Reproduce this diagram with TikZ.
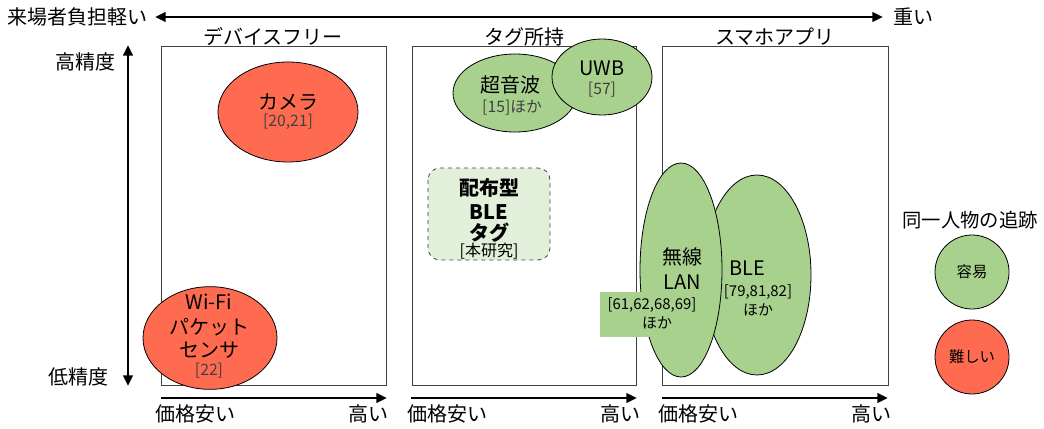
\documentclass[tikz,border=0pt]{standalone}
\usepackage{fontspec}
\setmainfont{Noto Sans CJK JP}
\usetikzlibrary{arrows.meta,shapes.geometric}
\definecolor{gfill}{HTML}{A9D18E}
\definecolor{rfill}{HTML}{FF6B50}
\definecolor{lgfill}{HTML}{E2F0D9}
\definecolor{boxline}{HTML}{404040}
\definecolor{reftext}{HTML}{404040}
\tikzset{
  big/.style={font=\fontsize{15}{18}\selectfont, inner sep=0pt},
  mid/.style={font=\fontsize{14.5}{18}\selectfont, inner sep=0pt},
  ref/.style={font=\fontsize{11.8}{14}\selectfont, text=reftext, inner sep=0pt},
  refb/.style={font=\fontsize{11.2}{13}\selectfont, inner sep=0pt},
  panel/.style={draw=boxline, line width=0.6pt},
  bigarrow/.style={line width=2.2pt, -{Triangle[length=8pt,width=7pt]}},
  dblarrow/.style={line width=2.2pt, {Triangle[length=8pt,width=7pt]}-{Triangle[length=8pt,width=7pt]}},
  ell/.style={ellipse, draw=black, line width=0.6pt, inner sep=0pt},
}
\begin{document}
\begin{tikzpicture}[x=0.75pt,y=-0.75pt]
\useasboundingbox (0,0) rectangle (1044,428);

% top arrow
\coordinate (tl) at (155,17);
\coordinate (tr) at (883,17);
\draw[dblarrow] (tl) -- (tr);
\node[big, anchor=east] (light) at (148,17) {来場者負担軽い};
\node[big, anchor=west] (heavy) at (893,17) {重い};

% vertical arrow
\coordinate (vt) at (128,45);
\coordinate (vb) at (128,386);
\draw[dblarrow] (vt) -- (vb);
\node[big] (hi) at (85,62) {高精度};
\node[big] (lo) at (78,377) {低精度};

% panels
\draw[panel] (161,46) rectangle (386,385);
\draw[panel] (412,46) rectangle (636,385);
\draw[panel] (662,46) rectangle (888,385);
\node[big] (h1) at (273,37) {デバイスフリー};
\node[big] (h2) at (524,37) {タグ所持};
\node[big] (h3) at (775,37) {スマホアプリ};

% price arrows
\coordinate (a1l) at (161,398); \coordinate (a1r) at (387,398);
\coordinate (a2l) at (411,398); \coordinate (a2r) at (637,398);
\coordinate (a3l) at (662,398); \coordinate (a3r) at (888,398);
\draw[bigarrow] (a1l) -- (a1r);
\draw[bigarrow] (a2l) -- (a2r);
\draw[bigarrow] (a3l) -- (a3r);
\node[big, anchor=west] (p1l) at (155,414) {価格安い};
\node[big, anchor=east] (p1h) at (389,414) {高い};
\node[big, anchor=west] (p2l) at (407,414) {価格安い};
\node[big, anchor=east] (p2h) at (641,414) {高い};
\node[big, anchor=west] (p3l) at (658,414) {価格安い};
\node[big, anchor=east] (p3h) at (892,414) {高い};

% camera
\node[ell, fill=rfill, minimum width=105pt, minimum height=75pt] (cam) at (288,112) {};
\node[big] (camt) at (288,102) {カメラ};
\node[ref] (camr) at (288,122) {[20,21]};

% wifi
\node[ell, fill=rfill, minimum width=100.5pt, minimum height=77pt] (wifi) at (210,338) {};
\node[big] (wf1) at (209,302) {Wi-Fi};
\node[big] (wf2) at (209,327) {パケット};
\node[big] (wf3) at (209,350) {センサ};
\node[ref] (wf4) at (209,371) {[22]};

% ultrasound and UWB
\node[ell, fill=gfill, minimum width=93pt, minimum height=58.5pt] (us) at (515,93) {};
\node[ell, fill=gfill, minimum width=75pt, minimum height=57pt] (uwb) at (602,77) {};
\node[big] (ust) at (510,85) {超音波};
\node[ref] (usr) at (512,108) {[15]ほか};
\node[big] (uwbt) at (602,68) {UWB};
\node[ref] (uwbr) at (602,90) {[57]};

% proposed
\draw[dashed, draw=boxline, line width=0.6pt, fill=lgfill, rounded corners=9pt] (428,168) rectangle (550,260);
\node[big, font=\fontsize{15}{18}\selectfont\bfseries] (pr1) at (489,188) {配布型};
\node[big, font=\fontsize{15}{18}\selectfont\bfseries] (pr2) at (489,212) {BLE};
\node[big, font=\fontsize{15}{18}\selectfont\bfseries] (pr3) at (489,233) {タグ};
\node[refb, font=\fontsize{12}{14}\selectfont] (pr4) at (489,251) {[本研究]};

% BLE and wireless LAN
\node[ell, fill=gfill, minimum width=81pt, minimum height=150pt] (ble) at (757,275) {};
\node[ell, fill=gfill, minimum width=61.5pt, minimum height=160.5pt] (wlan) at (681,270) {};
\fill[gfill] (600,292) rectangle (700,337);
\node[big] (wl1) at (682,257) {無線};
\node[big] (wl2) at (682,282) {LAN};
\node[refb] (wl3) at (652,305) {[61,62,68,69]};
\node[refb] (wl4) at (657,323) {ほか};
\node[big] (blet) at (747,268) {BLE};
\node[refb] (bler) at (758,292) {[79,81,82]};
\node[refb] (bleh) at (758,310) {ほか};

% legend
\node[mid] (legt) at (970,220) {同一人物の追跡};
\node[circle, draw=black, line width=0.6pt, fill=gfill, minimum size=55.5pt, inner sep=0pt] (easy) at (972,272) {};
\node[font=\fontsize{11.5}{14}\selectfont, inner sep=0pt] (easyt) at (easy) {容易};
\node[circle, draw=black, line width=0.6pt, fill=rfill, minimum size=55.5pt, inner sep=0pt] (hard) at (972,357) {};
\node[font=\fontsize{11.5}{14}\selectfont, inner sep=0pt] (hardt) at (hard) {難しい};
\end{tikzpicture}
\end{document}
